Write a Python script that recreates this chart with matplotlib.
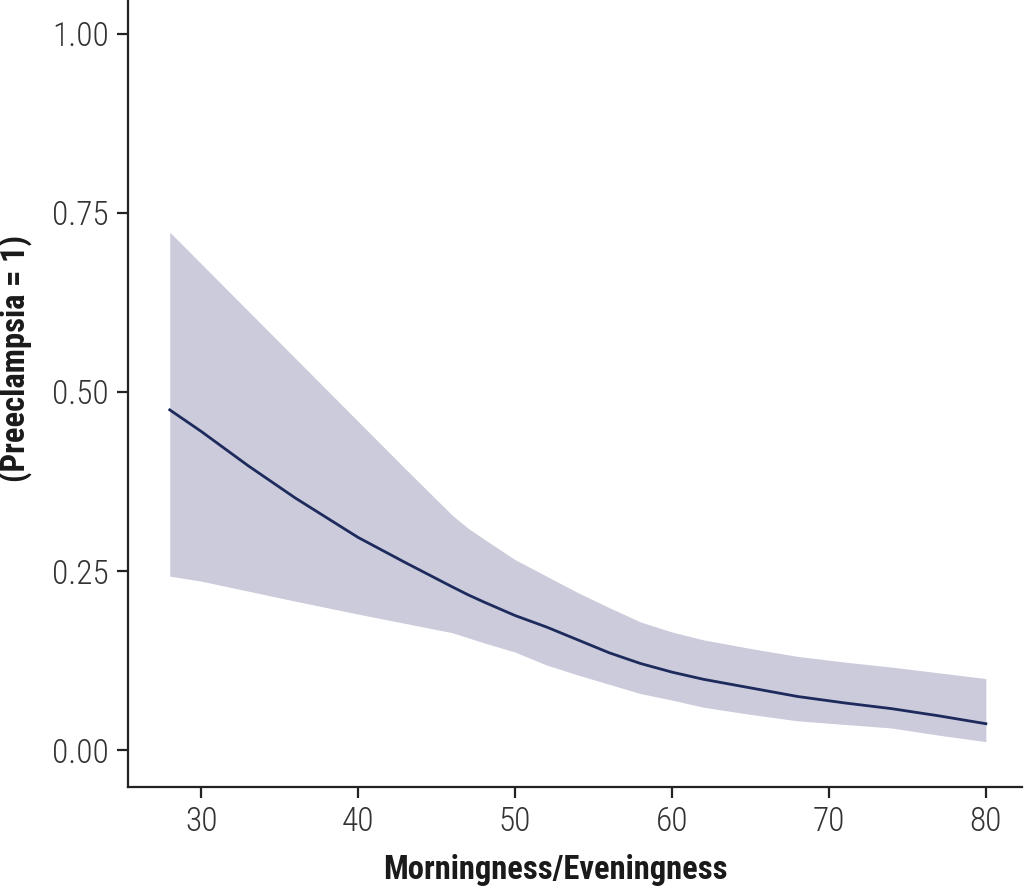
import matplotlib
matplotlib.use("Agg")
import matplotlib.pyplot as plt
from matplotlib import font_manager

# Predicted probability curve with 95% band
score    = [28, 30, 33, 36, 40, 43, 46, 47, 48, 50, 52, 54, 56, 58, 60, 62, 65, 68, 71, 74, 77, 80]
prob     = [0.475, 0.445, 0.397, 0.352, 0.297, 0.262, 0.228, 0.217, 0.207, 0.188, 0.172, 0.154,
            0.136, 0.121, 0.109, 0.099, 0.087, 0.075, 0.066, 0.058, 0.048, 0.037]
ci_upper = [0.723, 0.679, 0.613, 0.547, 0.459, 0.393, 0.328, 0.310, 0.295, 0.266, 0.243, 0.220,
            0.199, 0.179, 0.165, 0.154, 0.142, 0.131, 0.123, 0.116, 0.108, 0.100]
ci_lower = [0.243, 0.236, 0.222, 0.208, 0.190, 0.177, 0.164, 0.157, 0.150, 0.137, 0.119, 0.105,
            0.092, 0.079, 0.070, 0.060, 0.050, 0.041, 0.036, 0.031, 0.021, 0.012]

x_ticks = [30, 40, 50, 60, 70, 80]
y_ticks = [0.00, 0.25, 0.50, 0.75, 1.00]

BAND = "#cbcbdc"
LINE = "#1d2a5c"

names = {f.name for f in font_manager.fontManager.ttflist}
family = [f for f in ["Liberation Sans Narrow", "Roboto Condensed", "Liberation Sans"] if f in names] + ["DejaVu Sans"]
plt.rcParams["font.family"] = family

fig = plt.figure(figsize=(10.24, 8.86), dpi=100)
ax = fig.add_axes([0.125, 0.112, 0.873, 0.888])

ax.fill_between(score, ci_lower, ci_upper, color=BAND, linewidth=0)
ax.plot(score, prob, color=LINE, linewidth=2.0)

ax.set_xlim(25.34, 82.3)
ax.set_ylim(-0.051, 1.047)
ax.set_xticks(x_ticks)
ax.set_xticklabels([str(v) for v in x_ticks])
ax.set_yticks(y_ticks)
ax.set_yticklabels([f"{v:.2f}" for v in y_ticks])

for side in ("top", "right"):
    ax.spines[side].set_visible(False)
for side in ("left", "bottom"):
    ax.spines[side].set_linewidth(1.6)
    ax.spines[side].set_color("#222222")

ax.tick_params(axis="both", direction="out", length=8, width=1.6,
               color="#222222", labelsize=24, labelcolor="#333333", pad=6)
for lab in ax.get_xticklabels() + ax.get_yticklabels():
    lab.set_fontweight("light")

ax.set_xlabel("Morningness/Eveningness", fontsize=23.5, fontweight="bold",
              color="#1a1a1a")
ax.set_ylabel("(Preeclampsia = 1)", fontsize=23.5, fontweight="bold",
              color="#1a1a1a")
ax.xaxis.set_label_coords(0.478, -0.085)
ax.yaxis.set_label_coords(-0.107, 0.545)

fig.savefig("out.png", dpi=100)
